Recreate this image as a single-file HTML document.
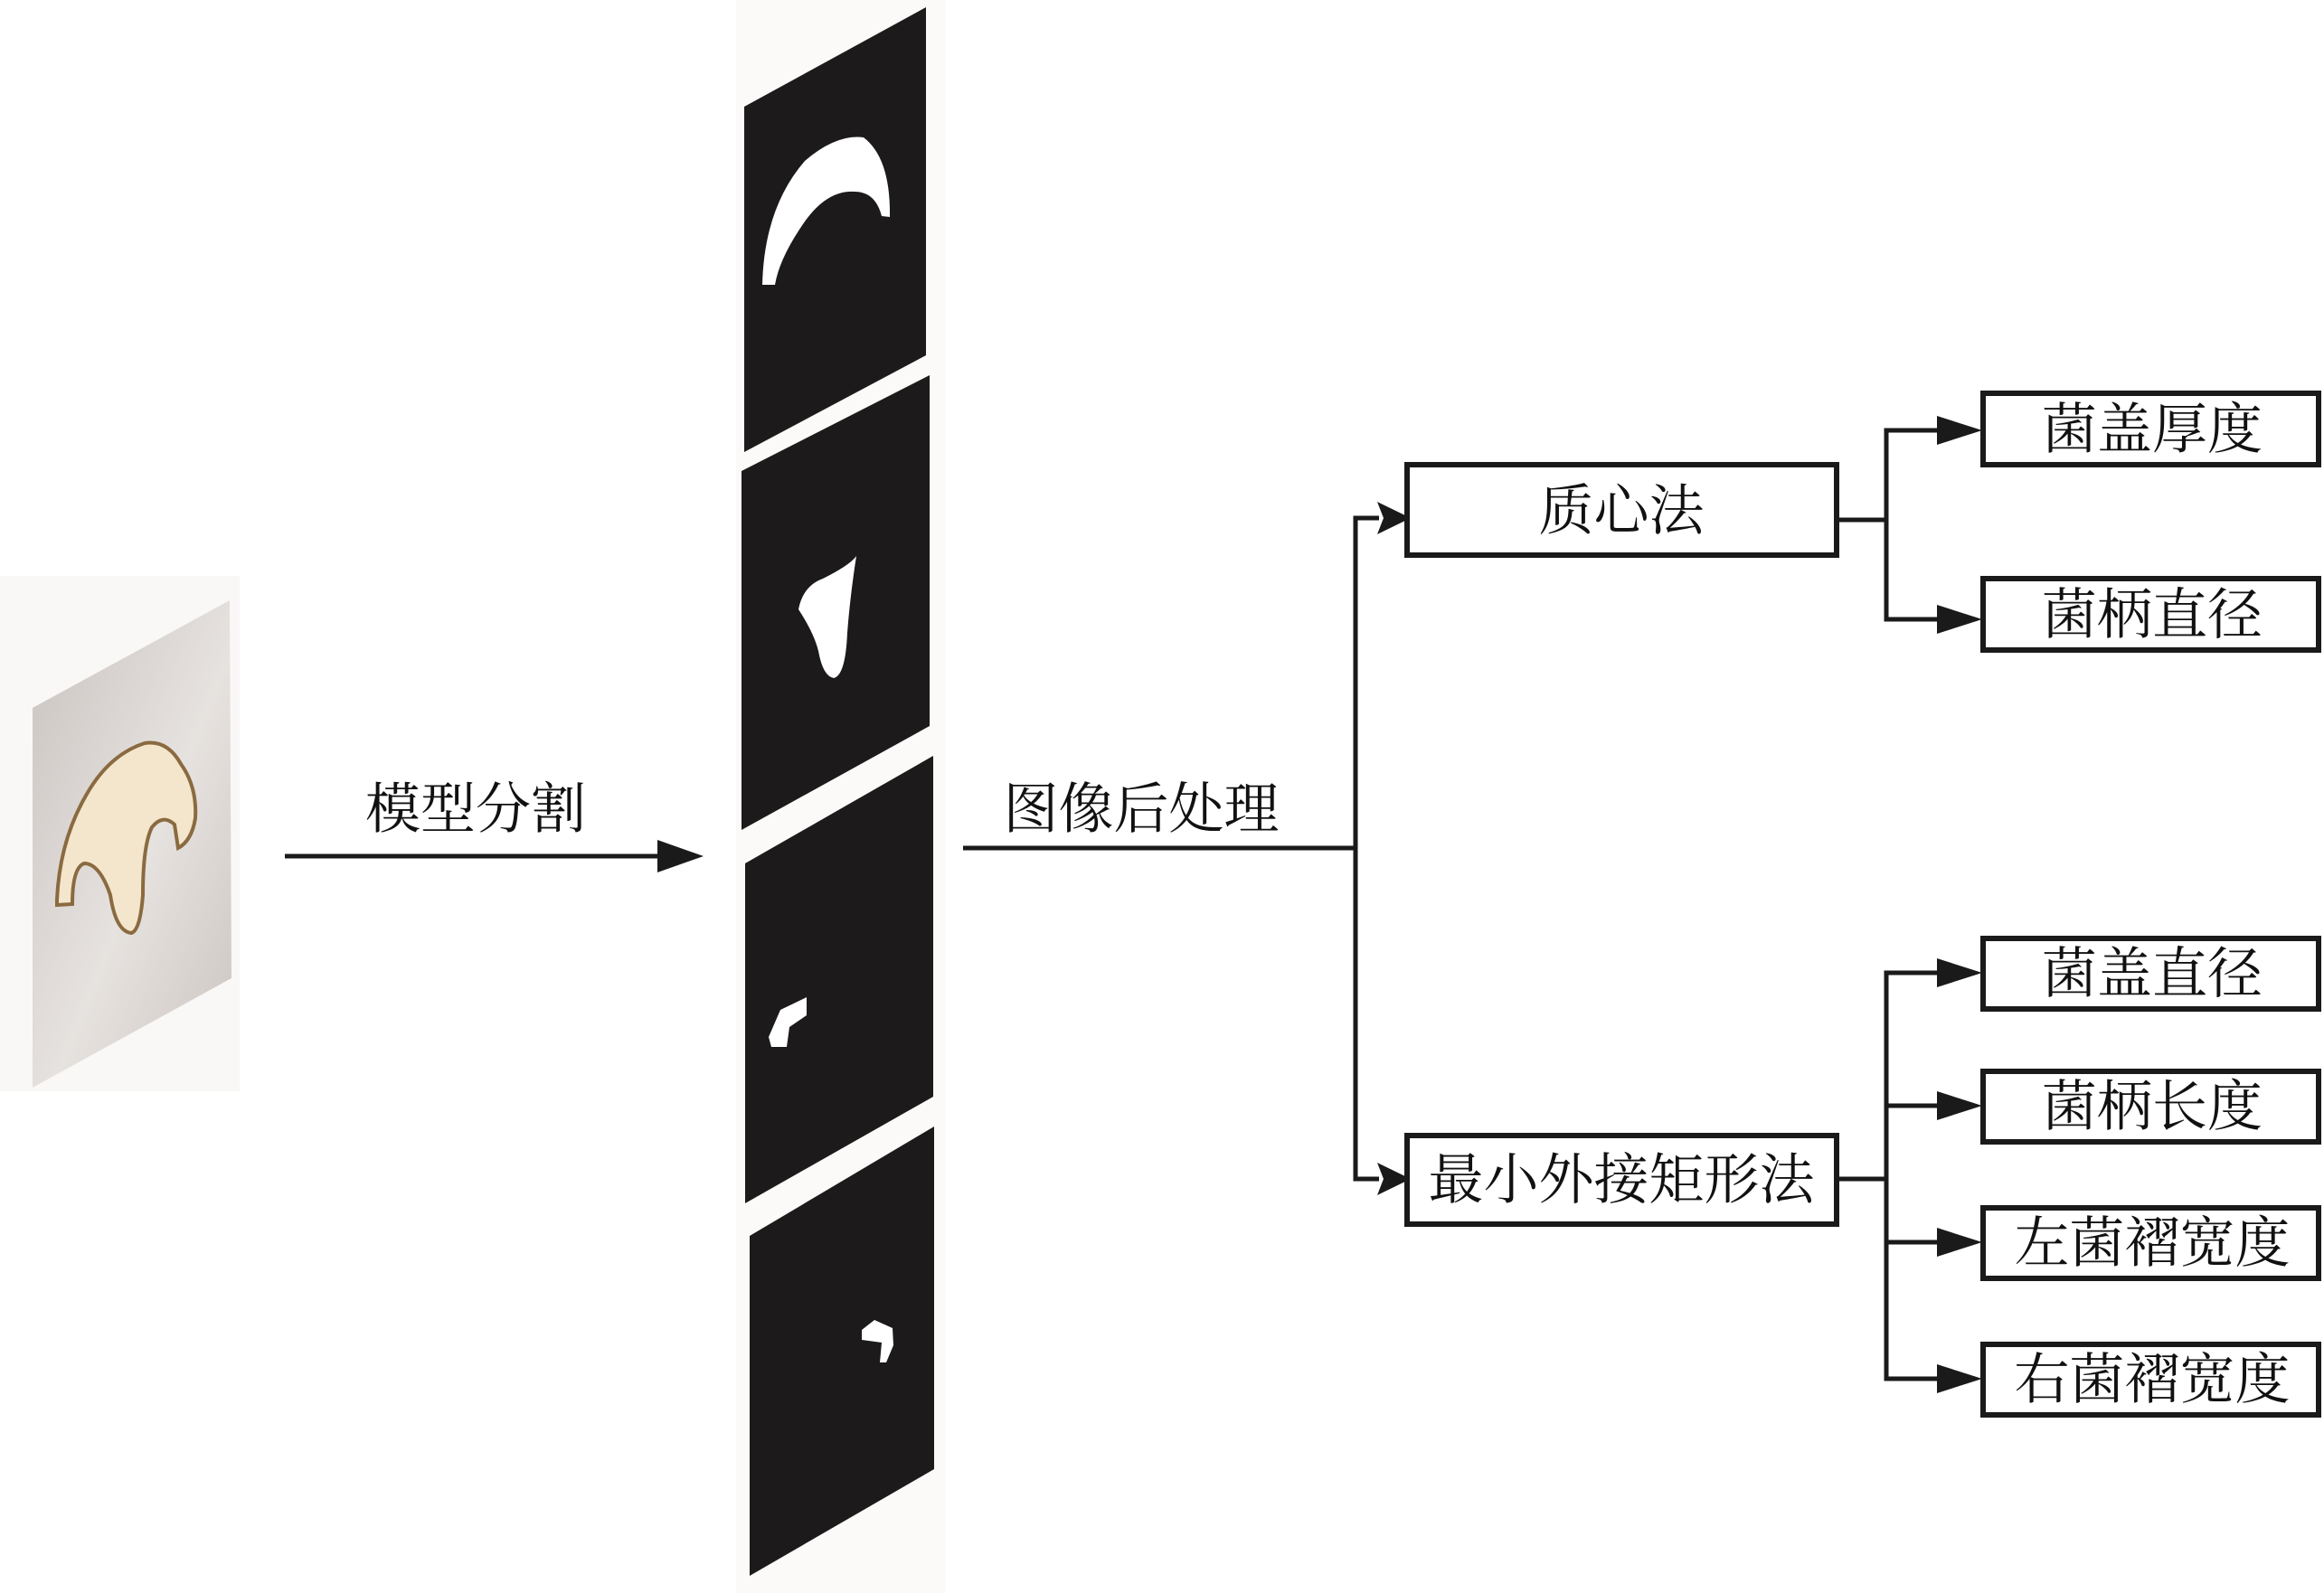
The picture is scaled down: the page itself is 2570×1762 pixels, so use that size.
<!DOCTYPE html>
<html><head><meta charset="utf-8"><style>
html,body{margin:0;padding:0;background:#fff;}
svg{display:block;}
text{font-family:"Liberation Serif","Noto Serif CJK SC","Noto Sans CJK SC",serif;font-size:61px;fill:#111;}
</style></head><body>
<svg width="2570" height="1762" viewBox="0 0 2570 1762" xmlns="http://www.w3.org/2000/svg">
<rect width="2570" height="1762" fill="#fff"/>
<!-- photo -->
<rect x="0" y="637" width="265" height="570" fill="#f9f8f7"/>
<defs><linearGradient id="g" x1="0" y1="0" x2="1" y2="1"><stop offset="0" stop-color="#c9c3c0"/><stop offset="0.55" stop-color="#e6e2df"/><stop offset="1" stop-color="#cbc4c0"/></linearGradient></defs>
<polygon points="36,783 254,664 256,1082 36,1203" fill="url(#g)"/>
<path d="M63,995 Q66,930 95,880 Q120,835 160,822 Q185,818 200,845 Q218,870 216,905 Q212,930 197,938 L193,912 Q180,900 168,915 Q158,935 158,990 Q155,1030 145,1032 Q128,1030 122,990 Q110,955 93,955 Q80,960 80,1000 L63,1001 Z" fill="#f3e6cc" stroke="#8a6a40" stroke-width="4"/>
<!-- strip -->
<rect x="814" y="0" width="232" height="1762" fill="#fbfaf9"/>
<g fill="#1c1a1a">
<polygon points="823,118 1024,8 1024,393 823,500"/>
<polygon points="820,521 1028,415 1028,803 820,918"/>
<polygon points="824,955 1032,836 1032,1213 824,1331"/>
<polygon points="829,1367 1033,1246 1033,1625 829,1743"/>
</g>
<g fill="#fff">
<path d="M843,315 Q845,230 890,178 Q925,148 955,152 Q985,175 984,240 L975,239 Q968,212 945,212 Q915,210 890,245 Q862,285 857,315 Z"/>
<path d="M883,674 Q888,648 910,640 Q940,625 947,615 Q940,660 937,700 Q935,747 922,750 Q910,748 905,720 Q900,700 883,674 Z"/>
<polygon points="850,1147 863,1117 892,1103 892,1123 873,1136 870,1158 853,1158"/>
<polygon points="953,1471 967,1460 987,1469 988,1488 980,1507 973,1507 975,1485 953,1482"/>
</g>
<!-- connectors -->
<g stroke="#1a1a1a" stroke-width="5" fill="none">
<line x1="315" y1="947" x2="735" y2="947"/>
<line x1="1065" y1="938" x2="1499" y2="938"/>
<polyline points="1525,573 1499,573 1499,1304 1525,1304"/>
<line x1="2032" y1="575" x2="2086" y2="575"/>
<polyline points="2145,476 2086,476 2086,685 2145,685"/>
<line x1="2032" y1="1304" x2="2086" y2="1304"/>
<polyline points="2145,1076 2086,1076 2086,1525 2145,1525"/>
<line x1="2086" y1="1223" x2="2145" y2="1223"/>
<line x1="2086" y1="1374" x2="2145" y2="1374"/>
</g>
<g fill="#1a1a1a">
<polygon points="727,929 778,947 727,965"/>
<polygon points="1523,555 1560,573 1523,591 1530,573"/>
<polygon points="1523,1286 1560,1304 1523,1322 1530,1304"/>
<polygon points="2142,460 2192,476 2142,492"/>
<polygon points="2142,669 2192,685 2142,701"/>
<polygon points="2142,1060 2192,1076 2142,1092"/>
<polygon points="2142,1207 2192,1223 2142,1239"/>
<polygon points="2142,1358 2192,1374 2142,1390"/>
<polygon points="2142,1509 2192,1525 2142,1541"/>
</g>
<!-- boxes -->
<g fill="#fff" stroke="#1a1a1a" stroke-width="6">
<rect x="1556" y="514" width="475" height="100"/>
<rect x="1556" y="1256" width="475" height="98"/>
<rect x="2193" y="435" width="371" height="79"/>
<rect x="2193" y="640" width="371" height="79"/>
<rect x="2193" y="1038" width="371" height="78"/>
<rect x="2193" y="1185" width="371" height="78"/>
<rect x="2193" y="1336" width="371" height="78"/>
<rect x="2193" y="1487" width="371" height="78"/>
</g>
<g text-anchor="middle" dominant-baseline="central">
<text x="526" y="896">模型分割</text>
<text x="1262" y="896">图像后处理</text>
<text x="1793" y="566">质心法</text>
<text x="1793" y="1306">最小外接矩形法</text>
<text x="2380" y="476">菌盖厚度</text>
<text x="2380" y="681">菌柄直径</text>
<text x="2380" y="1078">菌盖直径</text>
<text x="2380" y="1225">菌柄长度</text>
<text x="2380" y="1376">左菌褶宽度</text>
<text x="2380" y="1527">右菌褶宽度</text>
</g>
</svg>
</body></html>
